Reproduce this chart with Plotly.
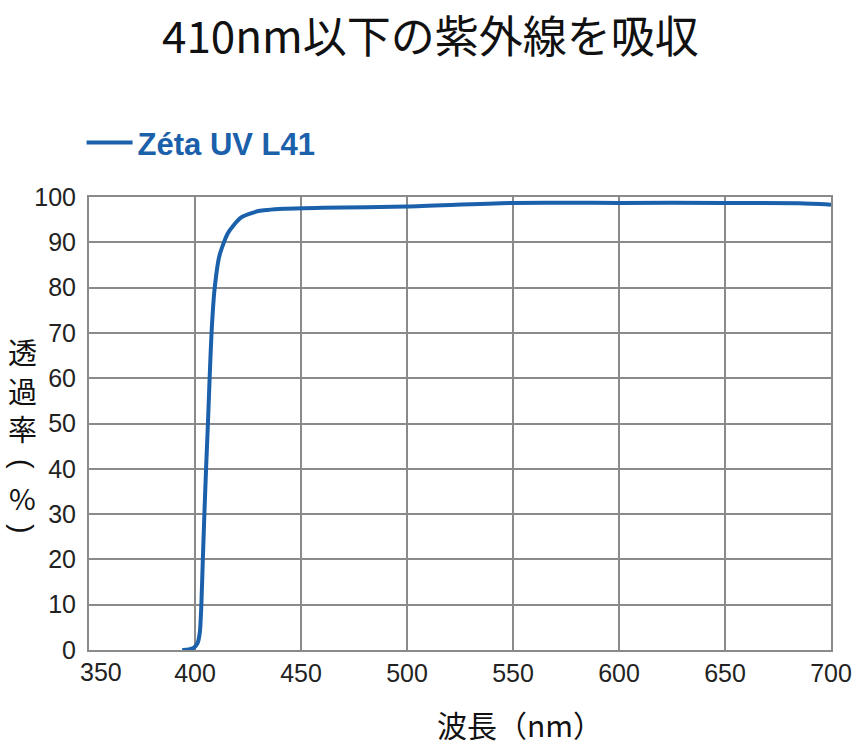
import plotly.graph_objects as go

wavelength = [394, 397, 399.5, 401.2, 402.3, 403.0, 403.7, 404.5, 405.3, 406.1, 406.9,
              407.8, 409.2, 411.5, 415.5, 421.5, 430, 442, 460, 500, 550, 600, 650, 685, 700]
transmission = [0, 0.1, 0.5, 1.5, 4, 10, 20, 31, 41, 50, 60,
                70, 79.5, 87, 92, 95.4, 96.9, 97.4, 97.6, 97.9, 98.7, 98.7, 98.7, 98.6, 98.3]

x_ticks = [350, 400, 450, 500, 550, 600, 650, 700]
y_ticks = [0, 10, 20, 30, 40, 50, 60, 70, 80, 90, 100]

series_name = "Zéta UV L41"
title_text = "410nm以下の紫外線を吸収"
x_title = "波長（nm）"
y_title_chars = ["透", "過", "率", "(", "%", ")"]

line_color = "#1b60ab"
grid_color = "#8a8a8a"
font_cjk = "Noto Sans CJK JP"
font_num = "Liberation Sans, Arial, sans-serif"

W, H = 856, 746
PLOT_L, PLOT_R, PLOT_T, PLOT_B = 89, 831, 197, 650   # pixels of the plot frame


def px_x(px):
    return (px - PLOT_L) / (PLOT_R - PLOT_L)


def px_y(py):
    return (PLOT_B - py) / (PLOT_B - PLOT_T)


fig = go.Figure()
fig.add_trace(go.Scatter(
    x=wavelength, y=transmission, mode="lines", name=series_name,
    line=dict(color=line_color, width=4, shape="spline", smoothing=0.6),
    showlegend=True,
))

y_title_pos = [351, 390, 428, 464, 497, 529]
annotations = [
    dict(text=title_text, x=px_x(430), y=px_y(34), xref="paper", yref="paper",
         xanchor="center", yanchor="middle",
         showarrow=False, font=dict(family=font_cjk, size=44, color="#111111")),
    dict(text=x_title, x=px_x(520), y=px_y(724), xref="paper", yref="paper",
         xanchor="center", yanchor="middle",
         showarrow=False, font=dict(family=font_cjk, size=30, color="#111111")),
    dict(text=str(x_ticks[0]), x=x_ticks[0], y=0, xref="x", yref="paper",
         xanchor="center", yanchor="top", xshift=12, yshift=-6,
         showarrow=False, font=dict(family=font_num, size=25, color="#222222")),
]
for ch, py in zip(y_title_chars, y_title_pos):
    is_paren = ch in "()"
    annotations.append(dict(
        text=ch, x=px_x(22), y=px_y(py), xref="paper", yref="paper",
        xanchor="center", yanchor="middle", showarrow=False,
        textangle=90 if is_paren else 0,
        font=dict(family=font_cjk if not is_paren else font_num,
                  size=29, color="#111111"),
    ))

fig.update_layout(
    width=W, height=H,
    margin=dict(l=PLOT_L, r=W - PLOT_R, t=PLOT_T, b=H - PLOT_B),
    paper_bgcolor="white", plot_bgcolor="white",
    showlegend=True,
    legend=dict(
        x=-0.01, y=1.06, xanchor="left", yanchor="bottom",
        xref="paper", yref="paper",
        font=dict(family="Liberation Sans, Arial", size=31,
                  color=line_color, weight="bold"),
        bgcolor="rgba(0,0,0,0)", itemwidth=46, tracegroupgap=0,
    ),
    xaxis=dict(
        range=[350, 700], tickvals=x_ticks,
        ticktext=[""] + [str(v) for v in x_ticks[1:]],
        showgrid=True, gridcolor=grid_color, gridwidth=2,
        showline=True, linecolor=grid_color, linewidth=2, mirror=True,
        ticks="", zeroline=False, automargin=False,
        tickfont=dict(family=font_num, size=25, color="#222222"),
    ),
    yaxis=dict(
        range=[0, 100], tickvals=y_ticks,
        showgrid=True, gridcolor=grid_color, gridwidth=2,
        showline=True, linecolor=grid_color, linewidth=2, mirror=True,
        ticks="", zeroline=False, ticklabelstandoff=6, automargin=False,
        tickfont=dict(family=font_num, size=25, color="#222222"),
    ),
    annotations=annotations,
)

fig.write_html(
    "out.html",
    config={"displayModeBar": False},
    post_script="document.body.style.margin='0';document.body.style.overflow='hidden';",
)
